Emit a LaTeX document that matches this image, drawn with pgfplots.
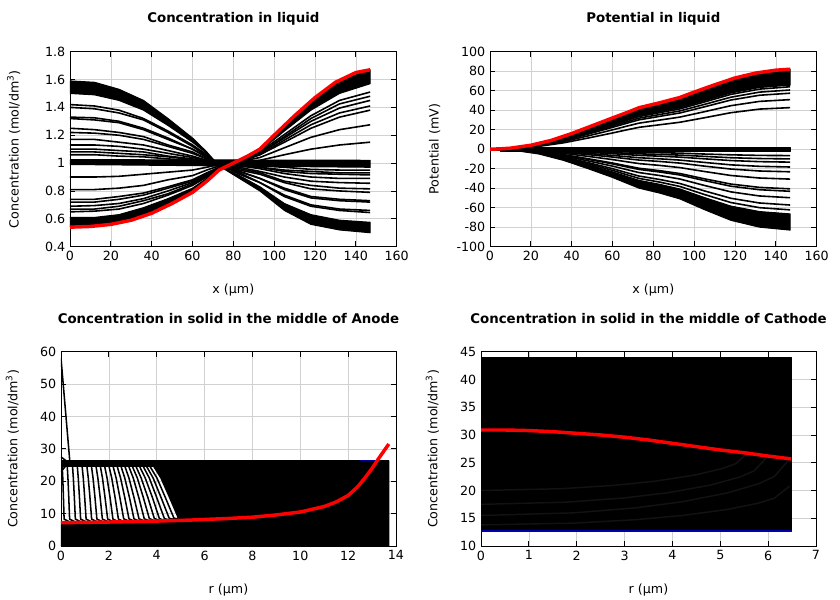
\documentclass[border=0pt]{standalone}
\usepackage{fontspec}
\setmainfont{DejaVu Sans}
\usepackage{pgfplots}
\pgfplotsset{compat=1.18}
\usepackage{pgfplotstable}

\pgfplotstableread{
x d100 d85 d71 d68 d56 d54 d42 d37 d29 d22 d17 d14 d10 a100 a85 a76 a72 a67 a61 a565 a41 a22
0 1.59 1.50 1.42 1.40 1.33 1.32 1.25 1.22 1.17 1.13 1.10 1.08 1.06 0.54 0.61 0.65 0.67 0.69 0.72 0.74 0.81 0.90
12 1.58 1.49 1.41 1.39 1.325 1.31 1.24 1.215 1.17 1.13 1.10 1.08 1.06 0.545 0.61 0.655 0.67 0.695 0.72 0.74 0.81 0.90
24 1.53 1.45 1.38 1.36 1.30 1.29 1.22 1.20 1.15 1.12 1.09 1.07 1.05 0.57 0.63 0.67 0.69 0.71 0.74 0.76 0.82 0.905
36 1.45 1.38 1.32 1.31 1.25 1.24 1.19 1.17 1.13 1.10 1.08 1.06 1.045 0.62 0.68 0.71 0.73 0.745 0.77 0.785 0.84 0.92
48 1.32 1.27 1.23 1.22 1.18 1.17 1.13 1.12 1.09 1.07 1.05 1.045 1.03 0.70 0.745 0.77 0.78 0.80 0.82 0.83 0.88 0.935
60 1.18 1.15 1.13 1.12 1.10 1.10 1.08 1.07 1.05 1.04 1.03 1.025 1.02 0.79 0.82 0.84 0.85 0.86 0.87 0.88 0.91 0.95
67 1.08 1.07 1.06 1.05 1.045 1.04 1.03 1.03 1.02 1.02 1.01 1.01 1.01 0.87 0.89 0.90 0.91 0.91 0.92 0.93 0.95 0.97
73 0.98 0.98 0.99 0.99 0.99 0.99 0.99 0.99 0.99 1.00 1.00 1.00 1.00 0.95 0.96 0.96 0.96 0.97 0.97 0.97 0.98 0.99
83 0.89 0.91 0.92 0.93 0.94 0.94 0.95 0.96 0.97 0.98 0.98 0.985 0.99 1.02 1.02 1.015 1.015 1.01 1.01 1.01 1.01 1.00
93 0.80 0.83 0.86 0.86 0.89 0.89 0.92 0.93 0.94 0.96 0.97 0.97 0.98 1.10 1.085 1.08 1.07 1.07 1.06 1.06 1.04 1.02
105 0.66 0.71 0.76 0.77 0.81 0.82 0.86 0.87 0.90 0.925 0.94 0.95 0.97 1.27 1.23 1.205 1.19 1.18 1.165 1.15 1.11 1.06
118 0.56 0.63 0.69 0.70 0.75 0.76 0.815 0.84 0.87 0.90 0.925 0.94 0.955 1.45 1.38 1.34 1.32 1.30 1.275 1.25 1.185 1.10
132 0.52 0.59 0.66 0.67 0.73 0.74 0.80 0.82 0.86 0.89 0.92 0.93 0.95 1.59 1.50 1.45 1.425 1.395 1.36 1.33 1.24 1.13
147 0.50 0.575 0.645 0.66 0.72 0.73 0.79 0.815 0.855 0.89 0.915 0.93 0.95 1.67 1.57 1.51 1.48 1.45 1.41 1.38 1.275 1.15
}\TLdata

\pgfplotstableread{
x p100 p80 p78 p74 p70 p62 p52 n100 n80 n75 n69 n60 n52 n49 n37 n28 n22 n16 n12 n08
0 0 0 0 0 0 0 0 0 0 0 0 0 0 0 0 0 0 0 0 0
12 1.5 1.2 1.2 1.1 1.05 0.9 0.8 -1.3 -1.05 -1 -0.9 -0.8 -0.7 -0.6 -0.5 -0.36 -0.3 -0.2 -0.16 -0.1
24 5.5 4.4 4.3 4.1 3.85 3.4 2.9 -5 -4 -3.75 -3.45 -3 -2.6 -2.45 -1.85 -1.4 -1.1 -0.8 -0.6 -0.4
36 12.5 10 9.75 9.25 8.75 7.75 6.5 -11.5 -9.2 -8.6 -7.9 -6.9 -6 -5.6 -4.25 -3.2 -2.5 -1.8 -1.4 -0.9
48 22 17.6 17.2 16.3 15.4 13.6 11.4 -20 -16 -15 -13.8 -12 -10.4 -9.8 -7.4 -5.6 -4.4 -3.2 -2.4 -1.6
60 32 25.6 25 23.7 22.4 19.8 16.6 -29 -23.2 -21.75 -20 -17.4 -15.1 -14.2 -10.7 -8.1 -6.4 -4.6 -3.5 -2.3
67 38 30.4 29.6 28.1 26.6 23.6 19.8 -35 -28 -26.25 -24.15 -21 -18.2 -17.15 -12.95 -9.8 -7.7 -5.6 -4.2 -2.8
73 43 34.4 33.5 31.8 30.1 26.7 22.4 -40 -32 -30 -27.6 -24 -20.8 -19.6 -14.8 -11.2 -8.8 -6.4 -4.8 -3.2
83 48 38.4 37.4 35.5 33.6 29.8 25 -45 -36 -33.75 -31.05 -27 -23.4 -22.05 -16.65 -12.6 -9.9 -7.2 -5.4 -3.6
93 53 42.4 41.3 39.2 37.1 32.9 27.6 -51 -40.8 -38.25 -35.2 -30.6 -26.5 -25 -18.9 -14.3 -11.2 -8.2 -6.1 -4.1
105 62 49.6 48.4 45.9 43.4 38.4 32.2 -62 -49.6 -46.5 -42.8 -37.2 -32.2 -30.4 -22.9 -17.4 -13.6 -9.9 -7.4 -5
118 72 57.6 56.2 53.3 50.4 44.6 37.4 -73 -58.4 -54.75 -50.4 -43.8 -38 -35.8 -27 -20.4 -16.1 -11.7 -8.8 -5.8
132 79 63.2 61.6 58.5 55.3 49 41.1 -80 -64 -60 -55.2 -48 -41.6 -39.2 -29.6 -22.4 -17.6 -12.8 -9.6 -6.4
147 82 65.6 64 60.7 57.4 50.8 42.6 -83 -66.4 -62.25 -57.3 -49.8 -43.2 -40.7 -30.7 -23.2 -18.3 -13.3 -10 -6.6
}\TRdata

\pgfplotsset{
  gp/.style={
    scale only axis,
    anchor=south west,
    font=\fontsize{9.5}{11}\selectfont,
    /pgf/number format/assume math mode=true,
    grid=major,
    grid style={draw=black!18, line width=0.5pt},
    axis line style={black, line width=0.6pt},
    tick style={black, line width=0.6pt},
    major tick length=4pt,
    title style={font=\bfseries\fontsize{10}{12}\selectfont, at={(0.5,1)}, anchor=base, yshift=15.5pt},
    xlabel style={at={(0.5,0)}, anchor=base, yshift=-35.5pt},
    ylabel style={at={(0,0.5)}, anchor=base, yshift=38.5pt},
  },
  bl/.style={black, line width=1.2pt},
  bt/.style={black, line width=1.15pt, line join=round},
  rd/.style={red, line width=2.6pt},
  fl/.style={fill=black, draw=black, line width=0.8pt, line join=round},
  arc/.style={black!93!white, line width=1.1pt},
}

\begin{document}
\begin{tikzpicture}
\useasboundingbox (0pt,0pt) rectangle (630pt,450pt);

% ---------- Concentration in liquid
\begin{axis}[gp, at={(52.5pt,265pt)}, width=245pt, height=146.25pt,
  xmin=0, xmax=160, ymin=0.4, ymax=1.8,
  xtick={0,20,40,60,80,100,120,140,160},
  ytick={0.4,0.6,0.8,1,1.2,1.4,1.6,1.8},
  title={Concentration in liquid}, xlabel={x (µm)},
  ylabel={Concentration (mol/dm\textsuperscript{3})}]
\addplot[fl] coordinates {(0,0.99)(147,0.97)(147,1.02)(0,1.025)};
\addplot[fl] coordinates {(0,1.59)(12,1.58)(24,1.53)(36,1.45)(48,1.32)(60,1.18)(67,1.08)(73,0.98)(83,0.89)(93,0.80)(105,0.66)(118,0.56)(132,0.52)(147,0.50)(147,0.575)(132,0.59)(118,0.63)(105,0.71)(93,0.83)(83,0.91)(73,0.98)(67,1.07)(60,1.15)(48,1.27)(36,1.38)(24,1.45)(12,1.49)(0,1.50)};
\addplot[bl] table[x=x,y=d71]{\TLdata};
\addplot[bl] table[x=x,y=d68]{\TLdata};
\addplot[bl] table[x=x,y=d56]{\TLdata};
\addplot[bl] table[x=x,y=d54]{\TLdata};
\addplot[bl] table[x=x,y=d42]{\TLdata};
\addplot[bl] table[x=x,y=d37]{\TLdata};
\addplot[bl] table[x=x,y=d29]{\TLdata};
\addplot[bl] table[x=x,y=d22]{\TLdata};
\addplot[bl] table[x=x,y=d17]{\TLdata};
\addplot[bl] table[x=x,y=d14]{\TLdata};
\addplot[bl] table[x=x,y=d10]{\TLdata};
\addplot[fl] coordinates {(0,0.54)(12,0.545)(24,0.57)(36,0.62)(48,0.70)(60,0.79)(67,0.87)(73,0.95)(83,1.02)(93,1.10)(105,1.27)(118,1.45)(132,1.59)(147,1.67)(147,1.57)(132,1.50)(118,1.38)(105,1.23)(93,1.085)(83,1.02)(73,0.96)(67,0.89)(60,0.82)(48,0.745)(36,0.68)(24,0.63)(12,0.61)(0,0.61)};
\addplot[bl] table[x=x,y=a76]{\TLdata};
\addplot[bl] table[x=x,y=a72]{\TLdata};
\addplot[bl] table[x=x,y=a67]{\TLdata};
\addplot[bl] table[x=x,y=a61]{\TLdata};
\addplot[bl] table[x=x,y=a565]{\TLdata};
\addplot[bl] table[x=x,y=a41]{\TLdata};
\addplot[bl] table[x=x,y=a22]{\TLdata};
\addplot[rd] coordinates {(0,0.54)(10,0.545)(20,0.56)(30,0.59)(40,0.64)(50,0.71)(60,0.79)(67,0.87)(73,0.95)(80,1.0)(87,1.05)(93,1.10)(100,1.20)(110,1.34)(120,1.47)(130,1.58)(140,1.65)(147,1.67)};
\end{axis}

% ---------- Potential in liquid
\begin{axis}[gp, at={(367.5pt,265pt)}, width=245pt, height=146.25pt,
  xmin=0, xmax=160, ymin=-100, ymax=100,
  xtick={0,20,40,60,80,100,120,140,160},
  ytick={-100,-80,-60,-40,-20,0,20,40,60,80,100},
  title={Potential in liquid}, xlabel={x (µm)},
  ylabel={Potential (mV)}]
\addplot[fl] coordinates {(5,1.5)(147,1.5)(147,-2)(5,-2)};
\addplot[fl] coordinates {(0,0)(12,1.5)(24,5.5)(36,12.5)(48,22)(60,32)(67,38)(73,43)(83,48)(93,53)(105,62)(118,72)(132,79)(147,82)(147,65.6)(132,63.2)(118,57.6)(105,49.6)(93,42.4)(83,38.4)(73,34.4)(67,30.4)(60,25.6)(48,17.6)(36,10)(24,4.4)(12,1.2)};
\addplot[bl] table[x=x,y=p78]{\TRdata};
\addplot[bl] table[x=x,y=p74]{\TRdata};
\addplot[bl] table[x=x,y=p70]{\TRdata};
\addplot[bl] table[x=x,y=p62]{\TRdata};
\addplot[bl] table[x=x,y=p52]{\TRdata};
\addplot[fl] coordinates {(0,0)(12,-1.3)(24,-5)(36,-11.5)(48,-20)(60,-29)(67,-35)(73,-40)(83,-45)(93,-51)(105,-62)(118,-73)(132,-80)(147,-83)(147,-66.4)(132,-64)(118,-58.4)(105,-49.6)(93,-40.8)(83,-36)(73,-32)(67,-28)(60,-23.2)(48,-16)(36,-9.2)(24,-4)(12,-1.05)};
\addplot[bl] table[x=x,y=n75]{\TRdata};
\addplot[bl] table[x=x,y=n69]{\TRdata};
\addplot[bl] table[x=x,y=n60]{\TRdata};
\addplot[bl] table[x=x,y=n52]{\TRdata};
\addplot[bl] table[x=x,y=n49]{\TRdata};
\addplot[bl] table[x=x,y=n37]{\TRdata};
\addplot[bl] table[x=x,y=n28]{\TRdata};
\addplot[bl] table[x=x,y=n22]{\TRdata};
\addplot[bl] table[x=x,y=n16]{\TRdata};
\addplot[bl] table[x=x,y=n12]{\TRdata};
\addplot[bl] table[x=x,y=n08]{\TRdata};
\addplot[rd] coordinates {(0,0)(5,0.3)(10,1)(20,4)(30,9)(40,16)(50,24)(60,32)(67,37.5)(73,42.5)(83,47.5)(93,53)(100,58.5)(110,66)(120,73)(130,78)(140,81)(147,82)};
\end{axis}

% ---------- Anode
\begin{axis}[gp, at={(45.75pt,40.5pt)}, width=251.25pt, height=145.7pt,
  xmin=0, xmax=14, ymin=0, ymax=60,
  xtick={0,2,4,6,8,10,12,14}, ytick={0,10,20,30,40,50,60},
  title={Concentration in solid in the middle of Anode}, xlabel={r (µm)},
  ylabel={Concentration (mol/dm\textsuperscript{3})}, ylabel style={yshift=-5.8pt}]
\addplot[blue!60!black, line width=0.8pt] coordinates {(0,26.35)(13.7,26.35)};
\addplot[fl] coordinates {(0,0)(13.7,0)(13.7,26.3)(3.85,26.3)(3.85,24.8)(4.17,21)(4.53,15)(4.9,8.6)(4,7.8)(2,7.5)(0,7.3)};
\addplot[fl] coordinates {(0,24.7)(13.7,24.7)(13.7,26.3)(0,26.3)};
\addplot[bt] coordinates {(0,58)(0.37,26)};
\addplot[bt] coordinates {(0,27.5)(0.4,25.3)};
\addplot[bt] coordinates {(0,23)(0.35,26)};
\addplot[bt] coordinates {(0.05,24.8)(0.074,21)(0.102,15)(0.13,8.3)(0.43,7.2)};
\addplot[bt] coordinates {(0.26,24.8)(0.29,21)(0.325,15)(0.36,8.3)(0.66,7.2)};
\addplot[bt] coordinates {(0.48,24.8)(0.516,21)(0.558,15)(0.60,8.3)(0.9,7.2)};
\addplot[bt] coordinates {(0.68,24.8)(0.722,21)(0.771,15)(0.82,8.3)(1.12,7.2)};
\addplot[bt] coordinates {(0.88,24.8)(0.931,21)(0.99,15)(1.05,8.3)(1.35,7.2)};
\addplot[bt] coordinates {(1.08,24.8)(1.14,21)(1.21,15)(1.28,8.3)(1.58,7.2)};
\addplot[bt] coordinates {(1.27,24.8)(1.339,21)(1.42,15)(1.50,8.3)(1.8,7.3)};
\addplot[bt] coordinates {(1.46,24.8)(1.541,21)(1.636,15)(1.73,8.3)(2.03,7.3)};
\addplot[bt] coordinates {(1.64,24.8)(1.733,21)(1.84,15)(1.95,8.3)(2.25,7.3)};
\addplot[bt] coordinates {(1.82,24.8)(1.925,21)(2.05,15)(2.17,8.3)(2.47,7.3)};
\addplot[bt] coordinates {(2.0,24.8)(2.12,21)(2.26,15)(2.40,8.3)(2.7,7.3)};
\addplot[bt] coordinates {(2.17,24.8)(2.305,21)(2.46,15)(2.62,8.4)(2.92,7.4)};
\addplot[bt] coordinates {(2.34,24.8)(2.49,21)(2.665,15)(2.84,8.4)(3.14,7.4)};
\addplot[bt] coordinates {(2.5,24.8)(2.665,21)(2.86,15)(3.05,8.4)(3.35,7.4)};
\addplot[bt] coordinates {(2.66,24.8)(2.84,21)(3.05,15)(3.26,8.4)(3.56,7.5)};
\addplot[bt] coordinates {(2.82,24.8)(3.02,21)(3.25,15)(3.48,8.4)(3.78,7.5)};
\addplot[bt] coordinates {(2.97,24.8)(3.19,21)(3.44,15)(3.69,8.5)(3.99,7.5)};
\addplot[bt] coordinates {(3.12,24.8)(3.35,21)(3.63,15)(3.90,8.5)(4.2,7.6)};
\addplot[bt] coordinates {(3.27,24.8)(3.52,21)(3.82,15)(4.11,8.5)(4.41,7.6)};
\addplot[bt] coordinates {(3.42,24.8)(3.69,21)(4.0,15)(4.32,8.5)(4.62,7.7)};
\addplot[bt] coordinates {(3.56,24.8)(3.85,21)(4.18,15)(4.52,8.6)(4.82,7.7)};
\addplot[bt] coordinates {(3.70,24.8)(4.01,21)(4.36,15)(4.72,8.6)(5.02,7.8)};
\addplot[blue!60!black, line width=0.8pt] coordinates {(12.5,26.4)(13.2,26.4)};
\addplot[rd] coordinates {(0,7.2)(2,7.4)(4,7.7)(5.4,8.0)(6,8.2)(7,8.5)(8,8.9)(9,9.6)(10,10.5)(11,12.2)(11.5,13.6)(12,15.6)(12.4,18.3)(12.7,21)(13,24)(13.3,27.3)(13.7,31.5)};
\end{axis}

% ---------- Cathode
\begin{axis}[gp, at={(360.75pt,40.5pt)}, width=251.25pt, height=145.7pt,
  xmin=0, xmax=7, ymin=10, ymax=45,
  xtick={0,1,2,3,4,5,6,7}, ytick={10,15,20,25,30,35,40,45},
  title={Concentration in solid in the middle of Cathode}, xlabel={r (µm)},
  ylabel={Concentration (mol/dm\textsuperscript{3})}, ylabel style={yshift=-5.8pt}]
\addplot[fl] coordinates {(0,12.7)(6.48,12.7)(6.48,43.9)(0,43.9)};
\addplot[arc] coordinates {(0,20)(1.68,20.32)(2.8,20.94)(3.64,21.68)(4.48,22.8)(5.04,23.95)(5.32,24.82)(5.6,27.0)};
\addplot[arc] coordinates {(0,17.5)(1.8,17.9)(3.0,18.67)(3.9,19.59)(4.8,20.98)(5.4,22.41)(5.7,23.49)(6.0,26.2)};
\addplot[arc] coordinates {(0,15.5)(1.94,15.97)(3.23,16.87)(4.19,17.95)(5.16,19.58)(5.81,21.25)(6.13,22.52)(6.45,25.7)};
\addplot[arc] coordinates {(0,13.8)(1.94,14.12)(3.23,14.74)(4.19,15.48)(5.16,16.6)(5.81,17.75)(6.13,18.62)(6.45,20.8)};
\addplot[blue!70!black, line width=0.8pt] coordinates {(0,12.7)(6.48,12.7)};
\addplot[rd] coordinates {(0,30.9)(0.5,30.9)(1,30.8)(1.5,30.6)(2,30.3)(2.5,30.0)(3,29.6)(3.5,29.1)(4,28.5)(4.5,27.9)(5,27.3)(5.5,26.8)(6,26.2)(6.48,25.7)};
\end{axis}
\end{tikzpicture}
\end{document}
